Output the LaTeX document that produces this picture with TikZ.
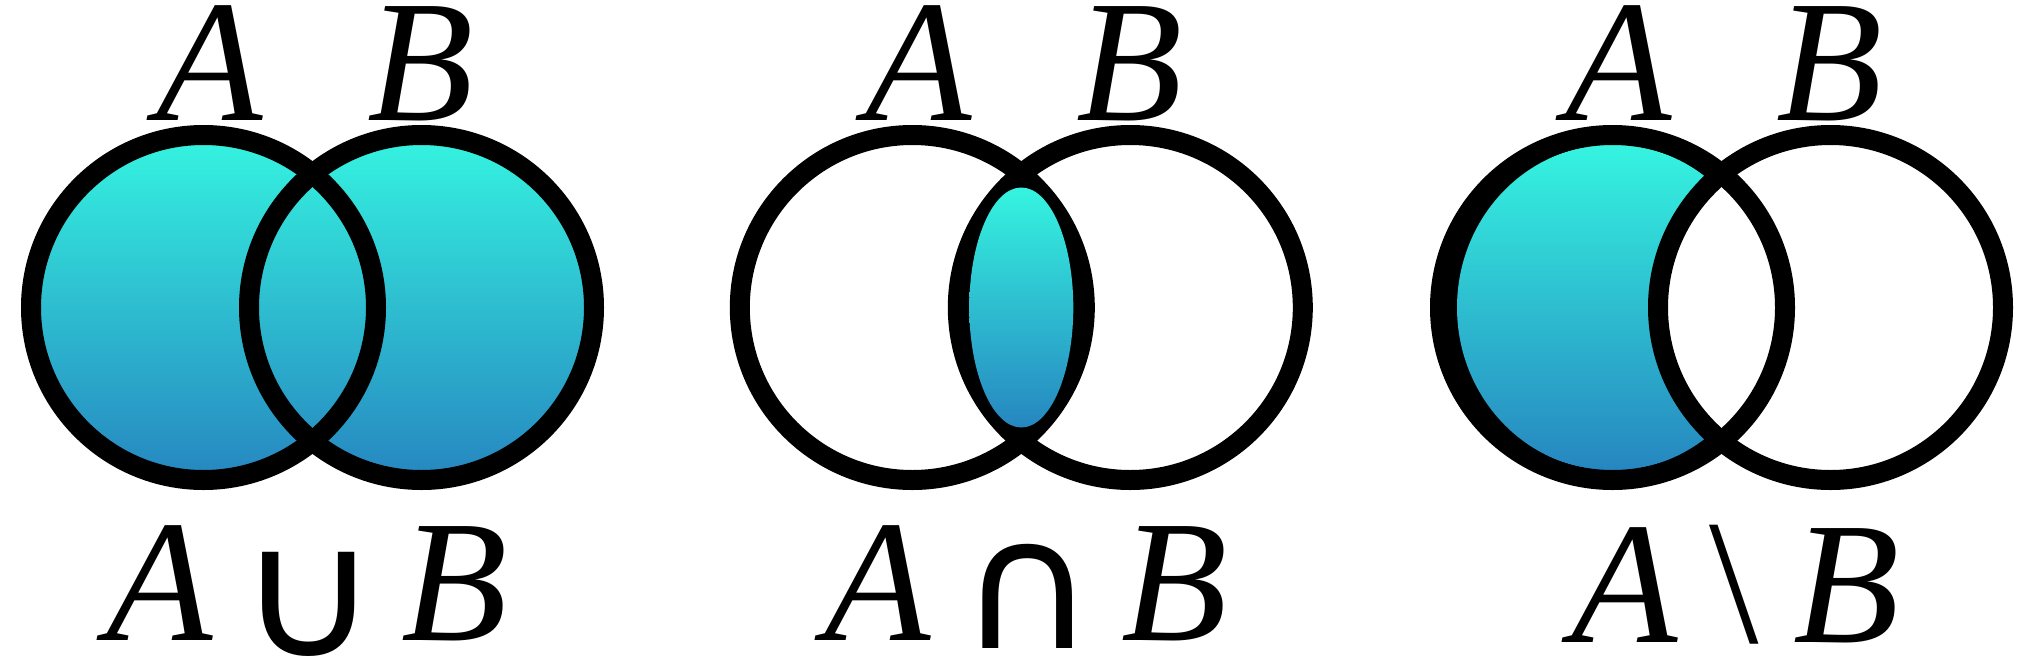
\documentclass[tikz,border=0pt]{standalone}
\usepackage{fontspec}
\setmainfont{Liberation Serif}
\newfontfamily\opfont{DejaVu Sans}
\usepackage{graphicx}
\usepackage{xcolor}
\usepackage{tikz}
\definecolor{setTop}{RGB}{53,244,224}
\definecolor{setBot}{RGB}{38,134,192}
\tikzstyle{ring} = [draw=black, line width=10pt]
\tikzstyle{setfill} = [top color=setTop, bottom color=setBot]
\tikzstyle{lab} = [inner sep=0pt, anchor=base west, font=\fontsize{87}{88}\selectfont\itshape]
\tikzstyle{op} = [inner sep=0pt, anchor=center, font=\fontsize{90}{90}\selectfont\opfont]
\tikzstyle{bs} = [inner sep=0pt, anchor=center, font=\fontsize{89}{90}\selectfont]

\begin{document}
\begin{tikzpicture}[x=0.5pt, y=-0.5pt]
    \useasboundingbox (0,0) rectangle (2024,670);
    \coordinate (a1) at (203.5,307.5);
    \coordinate (b1) at (421.5,307.5);
    \coordinate (a2) at (912.3,307.5);
    \coordinate (b2) at (1130.3,307.5);
    \coordinate (a3) at (1612.5,307.5);
    \coordinate (b3) at (1830.5,307.5);

    % union
    \shade[setfill] (a1) circle (172.5) (b1) circle (172.5);
    \draw[ring] (a1) circle (172.5);
    \draw[ring] (b1) circle (172.5);

    % intersection
    \begin{scope}
        \clip (a2) circle (172.5);
        \fill (b2) circle (172.5);
    \end{scope}
    \draw[ring] (a2) circle (172.5);
    \draw[ring] (b2) circle (172.5);
    \shade[setfill] (1021.3,307.5) ellipse [x radius=52, y radius=120];

    % difference
    \fill (a3) circle (172.5);
    \shade[setfill] (a3) ellipse [x radius=155.5, y radius=163];
    \fill[white] (b3) circle (172.5);
    \draw[ring] (a3) circle (172.5);
    \draw[ring] (b3) circle (172.5);

    % set names
    \node[lab] (ta1) at (156,120) {A};
    \node[lab] (tb1) at (367,120) {B};
    \node[lab] (ta2) at (865,120) {A};
    \node[lab] (tb2) at (1076,120) {B};
    \node[lab] (ta3) at (1565,120) {A};
    \node[lab] (tb3) at (1776,120) {B};

    % operations
    \node[lab] (ba1) at (106,640) {A};
    \node[op] (cup) at (309,604) {\scalebox{1.08}[1]{∪}};
    \node[lab] (bb1) at (401,640) {B};
    \node[lab] (ba2) at (824,640) {A};
    \node[op] (cap) at (1027.5,596) {\scalebox{1.05}[1]{∩}};
    \node[lab] (bb2) at (1121.5,640) {B};
    \node[lab] (ba3) at (1571,642) {A};
    \node[bs] (minus) at (1734,584.4) {\textbackslash};
    \node[lab] (bb3) at (1793,642) {B};
\end{tikzpicture}
\end{document}
